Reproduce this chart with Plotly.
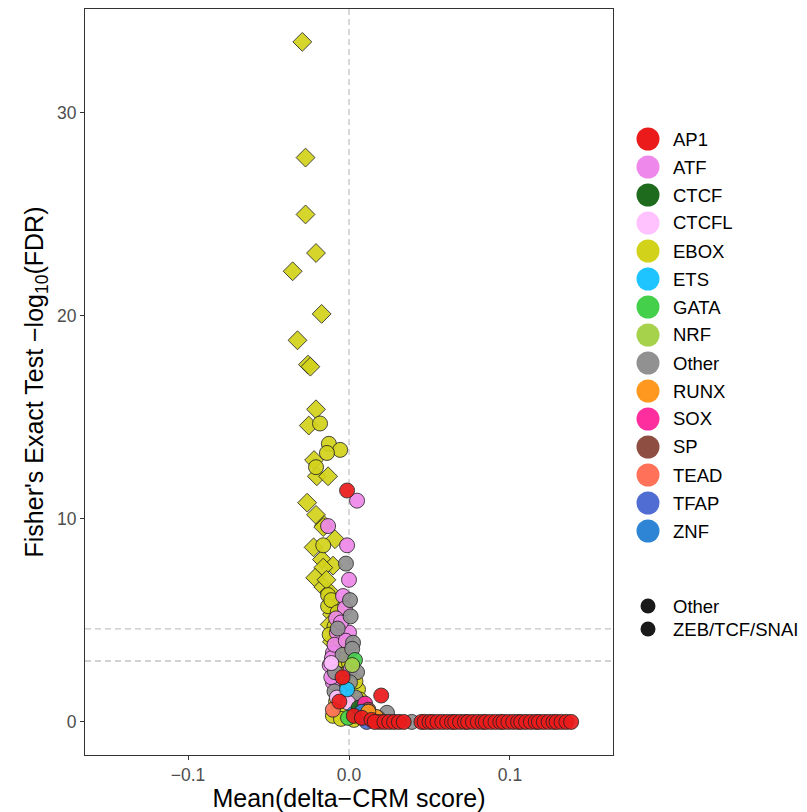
import plotly.graph_objects as go

# ---------------- data ----------------
categories = ["AP1", "ATF", "CTCF", "CTCFL", "EBOX", "ETS", "GATA", "NRF",
              "Other", "RUNX", "SOX", "SP", "TEAD", "TFAP", "ZNF"]
colors = ["#EB1B1B", "#EE88EA", "#1E6B1E", "#FFC2FF", "#D3D21B", "#1EC4FF",
          "#45D04B", "#A6D14A", "#919191", "#FF981E", "#FF2E9E", "#8E4E42",
          "#FF7259", "#4F6DD3", "#2E85D6"]
shape_groups = ["Other", "ZEB/TCF/SNAI"]

# motif-family points drawn as circles (shape group "Other")
ap1_x = [-0.0012, 0.020, -0.004, 0.003, 0.008, 0.019, -0.006, 0.014, 0.016,
         0.022, 0.025, 0.028, 0.031, 0.034, 0.045, 0.047, 0.050, 0.052, 0.055,
         0.058, 0.061, 0.064, 0.066, 0.069, 0.072, 0.074, 0.077, 0.080, 0.083,
         0.085, 0.088, 0.091, 0.094, 0.096, 0.099, 0.102, 0.105, 0.107, 0.110,
         0.113, 0.116, 0.118, 0.121, 0.124, 0.127, 0.129, 0.132, 0.135, 0.138]
ap1_y = [11.4, 1.3, 2.2, 0.3, 0.2, 0.0, 1.0, 0.1, 0.0,
         0.0, 0.0, 0.0, 0.0, 0.0, 0.0, 0.0, 0.0, 0.0, 0.0,
         0.0, 0.0, 0.0, 0.0, 0.0, 0.0, 0.0, 0.0, 0.0, 0.0,
         0.0, 0.0, 0.0, 0.0, 0.0, 0.0, 0.0, 0.0, 0.0, 0.0,
         0.0, 0.0, 0.0, 0.0, 0.0, 0.0, 0.0, 0.0, 0.0, 0.0]
atf_x = [0.005, -0.0012, -0.013, 0.0, -0.0037, -0.0025, -0.0075, 0.0, -0.010,
         -0.0106, -0.010, -0.006, 0.001, 0.004, -0.012, -0.008, -0.005,
         -0.011, -0.009, 0.007, -0.002]
atf_y = [10.9, 8.7, 9.65, 7.0, 6.2, 5.6, 4.4, 4.4, 3.4,
         3.15, 1.95, 1.4, 2.6, 0.5, 2.8, 5.1, 4.9,
         2.2, 3.8, 0.9, 4.0]
ctcf_x = [0.006]
ctcf_y = [0.7]
ctcfl_x = [-0.0075, -0.0006, -0.011]
ctcfl_y = [1.2, 0.95, 2.9]
ebox_c_x = [-0.018, -0.0125, -0.0055, -0.0137, -0.0205, -0.016, -0.013, -0.013,
            -0.0043, -0.0043, 0.0056, 0.0068, 0.0056, -0.008, -0.002, 0.002,
            -0.006, 0.0, -0.009, 0.003, -0.011, -0.007, -0.012, -0.003, 0.004,
            -0.010, 0.009, -0.005]
ebox_c_y = [14.7, 13.7, 13.4, 13.25, 12.55, 8.7, 6.25, 5.7,
            3.05, 2.3, 1.6, 1.1, 0.25, 1.0, 0.5, 0.8,
            4.1, 2.9, 4.7, 0.1, 6.0, 5.4, 4.3, 1.9, 2.0,
            0.3, 0.2, 0.15]
ets_x = [-0.0012, 0.003]
ets_y = [1.6, 0.4]
gata_x = [0.0037, -0.0006]
gata_y = [3.05, 0.2]
nrf_x = [0.002]
nrf_y = [2.8]
other_x = [-0.0019, 0.0006, 0.0025, -0.0087, 0.005, 0.0006, 0.0236, 0.039,
           0.013, -0.004, 0.009, 0.002, -0.007, 0.004, 0.018, 0.001, -0.009]
other_y = [7.8, 6.0, 3.9, 2.45, 2.45, 1.95, 0.45, 0.0,
           0.3, 3.3, 0.7, 3.6, 4.6, 1.2, 0.2, 5.2, 1.5]
runx_x = [0.0168, 0.012]
runx_y = [0.25, 0.5]
sox_x = [0.010]
sox_y = [0.9]
sp_x = [0.012]
sp_y = [0.6]
tead_x = [-0.010]
tead_y = [0.6]
tfap_x = [0.011]
tfap_y = [0.0]
znf_x = [0.008]
znf_y = [0.5]

# EBOX points of the ZEB/TCF/SNAI shape group (diamonds)
zeb_x = [-0.029, -0.027, -0.027, -0.0205, -0.035, -0.017, -0.032, -0.0255, -0.024,
         -0.0205, -0.025, -0.0217, -0.020, -0.013, -0.026, -0.0205, -0.0155, -0.016,
         -0.0087, -0.022, -0.0168, -0.0099, -0.016, -0.021, -0.016, -0.010, -0.0106,
         -0.0106, -0.0025, -0.012, -0.006, -0.004, -0.008, -0.014, -0.012, -0.007]
zeb_y = [33.5, 27.8, 25.0, 23.1, 22.2, 20.1, 18.8, 17.6, 17.5,
         15.4, 14.6, 12.9, 12.1, 12.1, 10.8, 10.2, 9.7, 9.6,
         9.0, 8.6, 8.0, 7.7, 7.6, 7.1, 6.65, 5.9, 5.3,
         3.95, 3.65, 6.4, 2.8, 1.7, 2.1, 7.0, 4.8, 4.3]

circle_x = {"AP1": ap1_x, "ATF": atf_x, "CTCF": ctcf_x, "CTCFL": ctcfl_x,
            "EBOX": ebox_c_x, "ETS": ets_x, "GATA": gata_x, "NRF": nrf_x,
            "Other": other_x, "RUNX": runx_x, "SOX": sox_x, "SP": sp_x,
            "TEAD": tead_x, "TFAP": tfap_x, "ZNF": znf_x}
circle_y = {"AP1": ap1_y, "ATF": atf_y, "CTCF": ctcf_y, "CTCFL": ctcfl_y,
            "EBOX": ebox_c_y, "ETS": ets_y, "GATA": gata_y, "NRF": nrf_y,
            "Other": other_y, "RUNX": runx_y, "SOX": sox_y, "SP": sp_y,
            "TEAD": tead_y, "TFAP": tfap_y, "ZNF": znf_y}

x_ticks = [-0.1, 0.0, 0.1]
x_ticktext = ["\u22120.1", "0.0", "0.1"]
y_ticks = [0, 10, 20, 30]
hlines = [3.0, 4.58]

# ---------------- figure ----------------
FONT = "Liberation Sans, Arial, Helvetica, sans-serif"
color_of = dict(zip(categories, colors))
fig = go.Figure()

order = ["EBOX", "ATF", "Other", "CTCFL", "ETS", "GATA", "NRF", "CTCF", "SOX",
         "SP", "TEAD", "ZNF", "TFAP", "RUNX", "AP1"]
fig.add_trace(go.Scatter(
    x=zeb_x, y=zeb_y, mode="markers", showlegend=False, name="EBOX",
    marker=dict(symbol="diamond", size=14.5, color=color_of["EBOX"], opacity=0.92,
                line=dict(color="#222222", width=0.9))))
for c in order:
    fig.add_trace(go.Scatter(
        x=circle_x[c], y=circle_y[c], mode="markers", showlegend=False, name=c,
        marker=dict(symbol="circle", size=15, color=color_of[c], opacity=0.92,
                    line=dict(color="#222222", width=0.9))))

# reference lines
shapes = [dict(type="line", xref="x", yref="paper", x0=0, x1=0, y0=0, y1=1,
               line=dict(color="#C4C4C4", width=1.3, dash="6px,4px"), layer="below")]
for h in hlines:
    shapes.append(dict(type="line", xref="paper", yref="y", x0=0, x1=1, y0=h, y1=h,
                       line=dict(color="#C4C4C4", width=1.3, dash="6px,4px"), layer="below"))

# manual legends (colour key and shape key)
L, R, T, B = 85, 613, 9, 755
pw, ph = R - L, B - T
def px_x(p):
    return (p - L) / pw
def px_y(p):
    return (B - p) / ph

annotations = []
for i, (c, col) in enumerate(zip(categories, colors)):
    cy = 139 + 28 * i
    shapes.append(dict(type="circle", xref="paper", yref="paper",
                       xsizemode="pixel", ysizemode="pixel",
                       xanchor=px_x(648), yanchor=px_y(cy),
                       x0=-11.5, x1=11.5, y0=-11.5, y1=11.5,
                       fillcolor=col, line=dict(width=0)))
    annotations.append(dict(xref="paper", yref="paper", x=px_x(671), y=px_y(cy),
                            text=c, showarrow=False, xanchor="left", yanchor="middle",
                            font=dict(family=FONT, size=18.5, color="#000000")))
for i, s in enumerate(shape_groups):
    cy = 606 + 23 * i
    shapes.append(dict(type="circle", xref="paper", yref="paper",
                       xsizemode="pixel", ysizemode="pixel",
                       xanchor=px_x(648), yanchor=px_y(cy),
                       x0=-7.5, x1=7.5, y0=-7.5, y1=7.5,
                       fillcolor="#1A1A1A", line=dict(width=0)))
    annotations.append(dict(xref="paper", yref="paper", x=px_x(671), y=px_y(cy),
                            text=s, showarrow=False, xanchor="left", yanchor="middle",
                            font=dict(family=FONT, size=18.5, color="#000000")))

axis_common = dict(showgrid=False, zeroline=False, showline=True, mirror=True,
                   linecolor="#333333", linewidth=1, ticks="outside", ticklen=4,
                   tickcolor="#333333", tickwidth=1,
                   tickfont=dict(family=FONT, size=17.5, color="#4D4D4D"))

fig.update_layout(
    width=807, height=812,
    margin=dict(l=L, r=807 - R, t=T, b=812 - B),
    paper_bgcolor="white", plot_bgcolor="white",
    showlegend=False,
    shapes=shapes, annotations=annotations,
    xaxis=dict(range=[-0.164, 0.164], tickvals=x_ticks, ticktext=x_ticktext,
               title=dict(text="Mean(delta\u2212CRM score)", standoff=6,
                          font=dict(family=FONT, size=25, color="#000000")),
               automargin=False, **axis_common),
    yaxis=dict(range=[-1.63, 35.12], tickvals=y_ticks,
               title=dict(text="Fisher's Exact Test \u2212log<sub>10</sub>(FDR)", standoff=6,
                          font=dict(family=FONT, size=25, color="#000000")),
               automargin=False, **axis_common),
)

fig.write_html("out.html")
